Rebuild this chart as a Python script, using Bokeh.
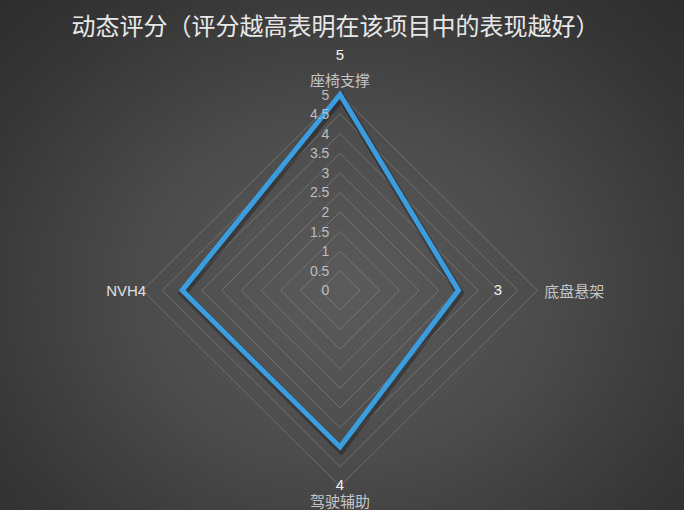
import math
from bokeh.plotting import figure
from bokeh.models import ColumnDataSource, Label
from bokeh.core.properties import value
from bokeh.embed import file_html
from bokeh.resources import INLINE

# data
title = "动态评分（评分越高表明在该项目中的表现越好）"
categories = ["座椅支撑", "底盘悬架", "驾驶辅助", "NVH"]
scores = [5, 3, 4, 4]
max_score = 5
step = 0.5
tick_labels = ["0", "0.5", "1", "1.5", "2", "2.5", "3", "3.5", "4", "4.5", "5"]

cjk = "Noto Sans CJK SC"
latin = "Liberation Sans"

n = len(categories)
angles = [math.pi / 2 - i * 2 * math.pi / n for i in range(n)]


def pt(r, a):
    return r * math.cos(a), r * math.sin(a)


p = figure(width=684, height=510, x_range=(-8.60, 8.725), y_range=(-5.62, 7.40),
           output_backend="svg", toolbar_location=None, min_border=0)
p.axis.visible = False
p.grid.visible = False
p.outline_line_color = None
p.background_fill_alpha = 0
p.border_fill_alpha = 0
p.styles = {"background": "radial-gradient(ellipse 75% 85% at 50% 57%, #5b5b5b 0%, #4b4b4b 40%, #363636 75%, #2b2b2b 100%)"}

# grid diamonds
levels = [step * (k + 1) for k in range(int(max_score / step))]
gx, gy = [], []
for lv in levels:
    pts = [pt(lv, a) for a in angles]
    gx.append([q[0] for q in pts])
    gy.append([q[1] for q in pts])
p.patches(gx, gy, fill_alpha=0, line_color="#a8a8a8", line_alpha=0.38, line_width=1)

# score polygon with a soft shadow
sx = [pt(s, a)[0] for s, a in zip(scores, angles)]
sy = [pt(s, a)[1] for s, a in zip(scores, angles)]
p.patch([v + 0.03 for v in sx], [v - 0.07 for v in sy], fill_alpha=0,
        line_color="black", line_alpha=0.28, line_width=8, line_join="miter")
p.patch(sx, sy, fill_alpha=0, line_color="#3a9de0", line_width=5, line_join="miter")

# tick labels along the first axis
tick_src = ColumnDataSource(dict(x=[-0.27] * len(tick_labels),
                                 y=[step * k for k in range(len(tick_labels))],
                                 t=tick_labels))
p.text("x", "y", text="t", source=tick_src, text_align="right", text_baseline="middle",
       text_font=value(latin), text_font_size="14px", text_color="#bdbdbd")

# category names and values
# top
x, y = pt(scores[0] + 1, angles[0])
p.add_layout(Label(x=x, y=y, text=str(scores[0]), text_align="center", text_baseline="middle",
                   text_font=latin, text_font_size="15px", text_color="#f2f2f2"))
x, y = pt(5.38, angles[0])
p.add_layout(Label(x=x, y=y, text=categories[0], text_align="center", text_baseline="middle",
                   text_font=cjk, text_font_size="15px", text_color="#c4c4c4"))
# right
x, y = pt(scores[1] + 1, angles[1])
p.add_layout(Label(x=x, y=y, text=str(scores[1]), text_align="center", text_baseline="middle",
                   text_font=latin, text_font_size="15px", text_color="#f2f2f2"))
x, y = pt(5.17, angles[1])
p.add_layout(Label(x=x, y=y, text=categories[1], text_align="left", text_baseline="middle",
                   text_font=cjk, text_font_size="15px", text_color="#c4c4c4"))
# bottom
x, y = pt(scores[2] + 0.98, angles[2])
p.add_layout(Label(x=x, y=y, text=str(scores[2]), text_align="center", text_baseline="middle",
                   text_font=latin, text_font_size="15px", text_color="#f2f2f2"))
x, y = pt(5.36, angles[2])
p.add_layout(Label(x=x, y=y, text=categories[2], text_align="center", text_baseline="middle",
                   text_font=cjk, text_font_size="15px", text_color="#c4c4c4"))
# left
x, y = pt(scores[3] + 0.91, angles[3])
p.add_layout(Label(x=x, y=y, text=categories[3] + str(scores[3]), text_align="right",
                   text_baseline="middle", text_font=latin, text_font_size="15px",
                   text_color="#e0e0e0"))

p.add_layout(Label(x=335, y=486, x_units="screen", y_units="screen", text=title,
                   text_align="center", text_baseline="middle", text_font=cjk,
                   text_font_size="24px", text_color="#e8e8e8"))

open("out.html", "w").write(file_html(p, INLINE))
